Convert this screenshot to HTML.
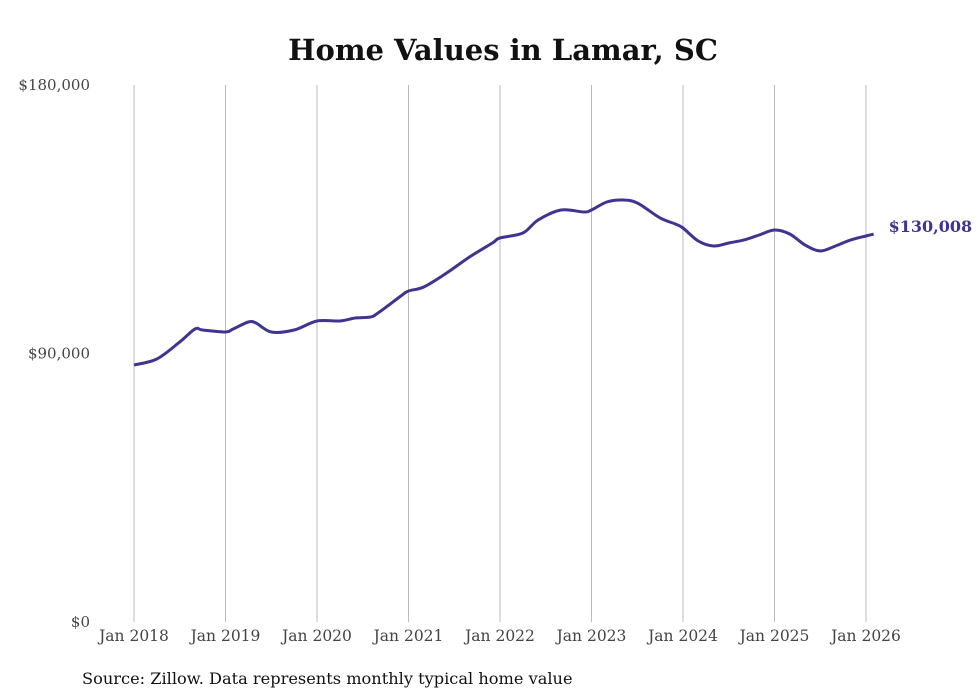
<!DOCTYPE html>
<html><head><meta charset="utf-8"><style>
body{margin:0;background:#fff;}
svg{display:block;font-family:"DejaVu Serif","Liberation Serif",serif;}
</style></head><body>
<svg id="chart" width="980" height="699">
<text x="503" y="60" text-anchor="middle" font-size="29" font-weight="bold" fill="#111">Home Values in Lamar, SC</text>
<g id="grid"></g>
<g id="yaxis"></g>
<g id="xaxis"></g>
<g id="series"></g>
<text x="82" y="684" font-size="16.2" fill="#111">Source: Zillow. Data represents monthly typical home value</text>
</svg>
<script>
const monthIdx=[0,3,6,8,9,12,13,15,16,18,21,24,27,29,31,32,35,36,38,41,44,47,48,51,53,56,59,60,62,64,66,69,71,72,74,76,78,80,82,84,86,88,90,92,94,96,97];
const values=[86150,88160,93860,98210,97880,97210,98210,100560,100220,97210,97880,100900,100900,101900,102240,103580,109280,110950,112290,116980,122350,127040,128720,130390,134750,138100,137430,138100,140780,141450,140450,135420,133410,132070,127710,126040,127040,128050,129720,131400,130060,126370,124360,126040,128050,129390,130008];
const yTicks=[0,90000,180000];
const yTickLabels=["$0","$90,000","$180,000"];
const xTickYears=[2018,2019,2020,2021,2022,2023,2024,2025,2026];
const lastLabel="$130,008";
const NS="http://www.w3.org/2000/svg";
const x=m=>134+m*(732/96);
const y=v=>622-v*(537/180000);
function mk(t,a,p){const e=document.createElementNS(NS,t);for(const k in a)e.setAttribute(k,a[k]);p.appendChild(e);return e;}
const grid=document.getElementById('grid'),ya=document.getElementById('yaxis'),xa=document.getElementById('xaxis'),se=document.getElementById('series');
xTickYears.forEach(yr=>{const m=(yr-2018)*12;
 const l=mk('line',{x1:x(m),x2:x(m),y1:85,y2:622,stroke:'#bbb','stroke-width':1},grid);
 
 
 const t=mk('text',{x:x(m),y:641,'text-anchor':'middle','font-size':15.5,fill:'#444'},xa);
 t.textContent='Jan '+yr;
 
 
});
yTicks.forEach((v,i)=>{const t=mk('text',{x:90,y:y(v)+5,'text-anchor':'end','font-size':15,fill:'#444'},ya);
 t.textContent=yTickLabels[i];
 
 
});
const P=monthIdx.map((m,i)=>[x(m),y(values[i])]);
let d='M'+P[0][0]+','+P[0][1];
for(let i=0;i<P.length-1;i++){const p0=P[i-1]||P[i],p1=P[i],p2=P[i+1],p3=P[i+2]||p2;
 d+=' C'+(p1[0]+(p2[0]-p0[0])/6)+','+(p1[1]+(p2[1]-p0[1])/6)+' '+(p2[0]-(p3[0]-p1[0])/6)+','+(p2[1]-(p3[1]-p1[1])/6)+' '+p2[0]+','+p2[1];}
const path=mk('path',{d:d,fill:'none',stroke:'#3d3590','stroke-width':3,'stroke-linejoin':'round'},se);


const last=P[P.length-1];
const lt=mk('text',{x:last[0]+15,y:last[1]-2,'font-size':16,'font-weight':'bold',fill:'#3d3590'},se);
lt.textContent=lastLabel;


</script>
</body></html>
